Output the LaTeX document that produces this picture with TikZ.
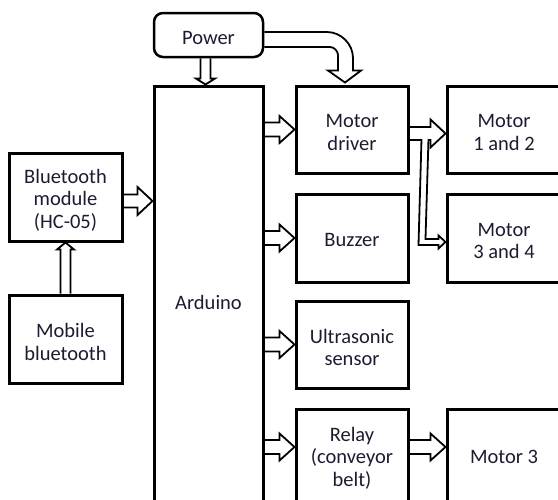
\documentclass[tikz,border=0pt]{standalone}
\usepackage{fontspec}
\setmainfont{Carlito}
\usetikzlibrary{calc}
\definecolor{txtc}{RGB}{28,28,48}
\pgfdeclarelayer{bg}
\pgfsetlayers{bg,main}
\newcommand\blkR[5]{%
 \begin{pgfonlayer}{bg}
 \draw[blk] ($(#1)+(0,-#3)$) -- ($(#2)+(-#5,-#3)$) -- ($(#2)+(-#5,-#4)$) -- (#2) -- ($(#2)+(-#5,#4)$) -- ($(#2)+(-#5,#3)$) -- ($(#1)+(0,#3)$);
 \end{pgfonlayer}}
\newcommand\blkD[5]{%
 \begin{pgfonlayer}{bg}
 \draw[blk] ($(#1)+(-#3,0)$) -- ($(#2)+(-#3,-#5)$) -- ($(#2)+(-#4,-#5)$) -- (#2) -- ($(#2)+(#4,-#5)$) -- ($(#2)+(#3,-#5)$) -- ($(#1)+(#3,0)$);
 \end{pgfonlayer}}
\newcommand\blkU[5]{%
 \begin{pgfonlayer}{bg}
 \draw[blk] ($(#1)+(-#3,0)$) -- ($(#2)+(-#3,#5)$) -- ($(#2)+(-#4,#5)$) -- (#2) -- ($(#2)+(#4,#5)$) -- ($(#2)+(#3,#5)$) -- ($(#1)+(#3,0)$);
 \end{pgfonlayer}}
\begin{document}
\begin{tikzpicture}[x=1pt,y=-1pt,
  box/.style={draw=black, line width=3pt, inner sep=0pt},
  lbl/.style={align=center, inner sep=0pt, font=\fontsize{20.5}{22.5}\selectfont, text=txtc, yshift=-3pt},
  blk/.style={draw=black, line width=1.8pt, fill=white, line join=miter}]
\useasboundingbox (0,0) rectangle (558,499);
\clip (0,0) rectangle (558,499);
% nodes
\node[box, rounded corners=9pt, line width=2.5pt, minimum width=109, minimum height=44,
  label={[lbl]center:Power}] (pw) at (208.5,35) {};
\node[box, minimum width=109, minimum height=432,
  label={[lbl,yshift=3pt]center:Arduino}] (ard) at (208.5,302) {};
\node[box, minimum width=112, minimum height=87,
  label={[lbl]center:Motor\\driver}] (md) at (352,129.5) {};
\node[box, minimum width=112, minimum height=88,
  label={[lbl,yshift=1pt]center:Buzzer}] (bz) at (352,238) {};
\node[box, minimum width=112, minimum height=87,
  label={[lbl]center:Ultrasonic\\sensor}] (us) at (352,344.5) {};
\node[box, minimum width=112, minimum height=96,
  label={[lbl,yshift=2pt]center:Relay\\(conveyor\\belt)}] (rl) at (352,457) {};
\node[box, minimum width=114, minimum height=87,
  label={[lbl]center:Motor\\1 and 2}] (m12) at (504,129.5) {};
\node[box, minimum width=114, minimum height=88,
  label={[lbl]center:Motor\\3 and 4}] (m34) at (504,238) {};
\node[box, minimum width=114, minimum height=96,
  label={[lbl,yshift=3pt]center:Motor 3}] (m3) at (504,457) {};
\node[box, minimum width=113, minimum height=88,
  label={[lbl]center:Bluetooth\\module\\(HC-05)}] (bt) at (65.5,197) {};
\node[box, minimum width=113, minimum height=88,
  label={[lbl]center:Mobile\\bluetooth}] (mb) at (65.5,339) {};
% coordinates
\coordinate (a1) at ($(bt.east)+(0,4)$);
\coordinate (b1) at (ard.west |- a1);
\coordinate (a2) at (ard.east |- md.west);
\coordinate (a3) at (ard.east |- bz.west);
\coordinate (a4) at (ard.east |- us.west);
\coordinate (b5) at ($(rl.west)+(0,-10)$);
\coordinate (a5) at (ard.east |- b5);
\coordinate (a6) at ($(md.east)+(0,4)$);
\coordinate (b6) at (m12.west |- a6);
\coordinate (a7) at ($(rl.east)+(0,-10)$);
\coordinate (b7) at (m3.west |- a7);
\coordinate (a8) at ($(pw.south)+(-3,0)$);
\coordinate (b8) at (a8 |- ard.north);
\coordinate (b10) at ($(m34.west)+(0,4)$);
% block arrows
\blkR{a1}{b1}{6.5}{14}{15}
\blkR{a2}{md.west}{7}{13.5}{15}
\blkR{a3}{bz.west}{7}{13.5}{15}
\blkR{a4}{us.west}{7}{13.5}{15}
\blkR{a5}{b5}{7}{13.5}{15}
\blkR{a6}{b6}{6.5}{14}{15}
\blkR{a7}{b7}{7}{13.5}{15}
\blkD{a8}{b8}{5}{9.5}{6}
\blkU{mb.north}{bt.south}{5}{8.5}{7}
% branch to motor 3 and 4
\begin{pgfonlayer}{bg}
\draw[blk] ($(a6)+(12,5.5)$) -- ($(b10)+(-27,3)$) -- ($(b10)+(-7,3)$) -- ($(b10)+(-7,6.5)$) -- (b10)
  -- ($(b10)+(-7,-6.5)$) -- ($(b10)+(-7,-3)$) -- ($(b10)+(-20,-3)$) -- ($(a6)+(19,5.5)$);
\end{pgfonlayer}
% curved power arrow
\coordinate (tp) at ($(md.north)+(-7,-2)$);
\coordinate (po) at ($(pw.east)+(0,-3)$);
\coordinate (pi) at ($(pw.east)+(0,12)$);
\coordinate (oc) at ($(tp)+(8,0)$);
\coordinate (ic) at ($(tp)+(-7,0)$);
\coordinate (ocn) at (oc |- po);
\coordinate (icn) at (ic |- pi);
\begin{pgfonlayer}{bg}
\draw[blk] (po) -- ($(ocn)+(-26,0)$) .. controls ($(ocn)+(-12,0)$) and ($(ocn)+(0,12)$) .. ($(ocn)+(0,26)$)
  -- ($(tp)+(8,-12)$) -- ($(tp)+(16,-12)$) -- (tp) -- ($(tp)+(-17,-12)$) -- ($(tp)+(-7,-12)$)
  -- ($(icn)+(0,8)$) .. controls ($(icn)+(0,4)$) and ($(icn)+(-4,0)$) .. ($(icn)+(-8,0)$) -- (pi);
\end{pgfonlayer}
\end{tikzpicture}
\end{document}
